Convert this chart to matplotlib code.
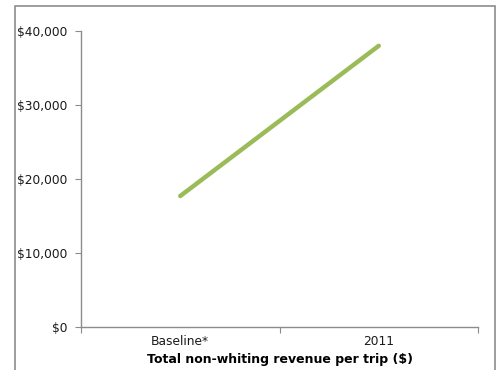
import matplotlib
matplotlib.use("Agg")
import matplotlib.pyplot as plt
from matplotlib.patches import Rectangle
from matplotlib.ticker import FuncFormatter

categories = ["Baseline*", "2011"]
revenue = [17700, 38000]
y_ticks = [0, 10000, 20000, 30000, 40000]

W, H = 498, 370
fig = plt.figure(figsize=(W / 100, H / 100), dpi=100)

# outer chart frame (bottom edge runs past the image)
fig.patches.append(Rectangle((15 / W, -0.05), 480 / W, 1.05 - 6 / H,
                             transform=fig.transFigure, fill=False,
                             edgecolor="#8c8c8c", linewidth=1.2))

ax = fig.add_axes([81 / W, 1 - 327 / H, (478 - 81) / W, (327 - 31) / H])
x = [0, 1]
ax.plot(x, revenue, color="#9bbb59", linewidth=3.2, solid_capstyle="round")

ax.set_xlim(-0.5, 1.5)
ax.set_ylim(0, 40000)
ax.set_yticks(y_ticks)
ax.yaxis.set_major_formatter(FuncFormatter(lambda v, p: f"${v:,.0f}"))
ax.set_xticks([-0.5, 0.5, 1.5])
ax.set_xticklabels([])
ax.set_xticks(x, minor=True)
ax.set_xticklabels(categories, minor=True)
ax.tick_params(axis="x", which="minor", length=0, pad=6)
ax.tick_params(axis="x", which="major", length=4, color="#8c8c8c")
ax.tick_params(axis="y", length=4, color="#8c8c8c", pad=6)
ax.tick_params(which="both", labelsize=8.8, labelcolor="#1a1a1a")

for s in ["top", "right"]:
    ax.spines[s].set_visible(False)
for s in ["left", "bottom"]:
    ax.spines[s].set_color("#8c8c8c")
    ax.spines[s].set_linewidth(1.0)

ax.set_xlabel("Total non-whiting revenue per trip ($)", fontsize=9,
              fontweight="bold", labelpad=3)

fig.savefig("out.png", dpi=100)
